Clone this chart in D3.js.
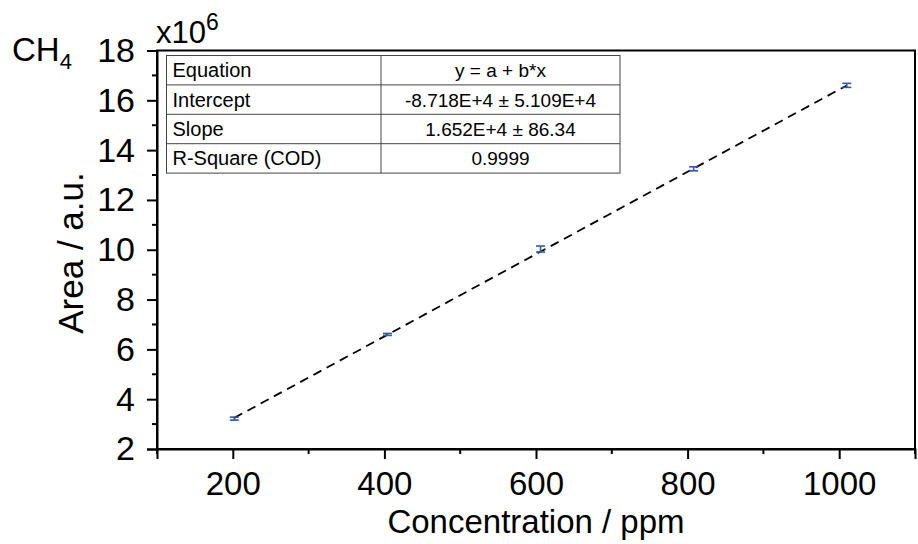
<!DOCTYPE html>
<html>
<head>
<meta charset="utf-8">
<script src="https://cdn.jsdelivr.net/npm/d3@7"></script>
<style>
  html, body { margin: 0; padding: 0; background: #fff; }
  svg { display: block; font-family: "Liberation Sans", Arial, sans-serif; }
</style>
</head>
<body>
<svg id="chart" width="918" height="544"></svg>
<script>
// ---- data ----
const concentrations = [202, 404, 606, 808, 1010];       // ppm
const areas = [3.22, 6.60, 10.03, 13.25, 16.60];        // x10^6 a.u.
const errors = [0.06, 0.04, 0.12, 0.08, 0.08];          // x10^6 a.u.
const fitIntercept = -8.718e4;
const fitSlope = 1.652e4;
const xTicks = [200, 400, 600, 800, 1000];
const yTicks = [2, 4, 6, 8, 10, 12, 14, 16, 18];
const tableRows = ["Equation", "Intercept", "Slope", "R-Square (COD)"];
const tableValues = ["y = a + b*x", "-8.718E+4 \u00b1 5.109E+4", "1.652E+4 \u00b1 86.34", "0.9999"];

// ---- layout ----
const svg = d3.select("#chart");
const FONT = "Liberation Sans, Arial, sans-serif";
const L = 157, R = 915, T = 50.5, B = 449;
const x = d3.scaleLinear().domain([100, 1100]).range([L, R]);
const y = d3.scaleLinear().domain([2, 18]).range([B, T]);

// frame
svg.append("rect").attr("x", L).attr("y", T).attr("width", R - L).attr("height", B - T)
  .attr("fill", "none").attr("stroke", "#000").attr("stroke-width", 2);

// minor ticks
const xMinor = d3.range(100, 1101, 200);
const yMinor = d3.range(3, 18, 2);

const xAxis = d3.axisBottom(x).tickValues(xTicks).tickSize(10).tickPadding(13).tickFormat(d3.format("d"));
const gx = svg.append("g").attr("transform", `translate(0,${B})`).call(xAxis);
gx.select(".domain").attr("stroke-width", 2);
gx.selectAll(".tick line").attr("stroke-width", 2);
gx.selectAll(".tick text").attr("font-size", 33).attr("font-family", FONT).attr("fill", "#000");
gx.selectAll(".minor").data(xMinor).enter().append("line").attr("class", "minor")
  .attr("x1", d => x(d)).attr("x2", d => x(d)).attr("y1", 0).attr("y2", 5)
  .attr("stroke", "#000").attr("stroke-width", 2);

const yAxis = d3.axisLeft(y).tickValues(yTicks).tickSize(10).tickPadding(12).tickFormat(d3.format("d"));
const gy = svg.append("g").attr("transform", `translate(${L},0)`).call(yAxis);
gy.select(".domain").attr("stroke-width", 2);
gy.selectAll(".tick line").attr("stroke-width", 2);
gy.selectAll(".tick text").attr("font-size", 34).attr("font-family", FONT).attr("fill", "#000");
gy.selectAll(".minor").data(yMinor).enter().append("line").attr("class", "minor")
  .attr("x1", 0).attr("x2", -5).attr("y1", d => y(d)).attr("y2", d => y(d))
  .attr("stroke", "#000").attr("stroke-width", 2);

// axis titles
svg.append("text").attr("x", 536).attr("y", 533).attr("text-anchor", "middle")
  .attr("font-size", 33).text("Concentration / ppm");
svg.append("text").attr("transform", `translate(83,253) rotate(-90)`).attr("text-anchor", "middle")
  .attr("font-size", 35).text("Area / a.u.");

// CH4 label
const ch = svg.append("text").attr("x", 12).attr("y", 61).attr("font-size", 33);
ch.append("tspan").text("CH");
ch.append("tspan").attr("font-size", 22).attr("dy", 8).text("4");

// multiplier
const mult = svg.append("text").attr("x", 156).attr("y", 43).attr("font-size", 31);
mult.append("tspan").text("x10");
mult.append("tspan").attr("font-size", 23).attr("dy", -13).text("6");

// fit line
const fitX = d3.extent(concentrations);
svg.append("line")
  .attr("x1", x(fitX[0])).attr("y1", y((fitIntercept + fitSlope * fitX[0]) / 1e6))
  .attr("x2", x(fitX[1])).attr("y2", y((fitIntercept + fitSlope * fitX[1]) / 1e6))
  .attr("stroke", "#000").attr("stroke-width", 1.8).attr("stroke-dasharray", "9,6");

// error bars
const blue = "#2f5ba8";
const eb = svg.append("g").attr("stroke", blue).attr("stroke-width", 1.6);
concentrations.forEach((c, i) => {
  const cx = x(c), y0 = y(areas[i] - errors[i]), y1 = y(areas[i] + errors[i]);
  eb.append("line").attr("x1", cx).attr("x2", cx).attr("y1", y0).attr("y2", y1);
  eb.append("line").attr("x1", cx - 4.5).attr("x2", cx + 4.5).attr("y1", y0).attr("y2", y0);
  eb.append("line").attr("x1", cx - 4.5).attr("x2", cx + 4.5).attr("y1", y1).attr("y2", y1);
});

// table
const tL = 166.5, tC = 381, tR = 620, tT = 55.5, rowH = 29.4;
const tg = svg.append("g");
tg.append("rect").attr("x", tL).attr("y", tT).attr("width", tR - tL).attr("height", rowH * tableRows.length)
  .attr("fill", "#fff").attr("stroke", "#444").attr("stroke-width", 1);
tableRows.forEach((r, i) => {
  if (i > 0) tg.append("line").attr("x1", tL).attr("x2", tR).attr("y1", tT + i * rowH).attr("y2", tT + i * rowH)
    .attr("stroke", "#444").attr("stroke-width", 1);
  tg.append("text").attr("x", tL + 6).attr("y", tT + i * rowH + rowH / 2 + 7).attr("font-size", 20).text(r);
  tg.append("text").attr("x", (tC + tR) / 2).attr("y", tT + i * rowH + rowH / 2 + 7).attr("font-size", 19)
    .attr("text-anchor", "middle").text(tableValues[i]);
});
tg.append("line").attr("x1", tC).attr("x2", tC).attr("y1", tT).attr("y2", tT + rowH * tableRows.length)
  .attr("stroke", "#444").attr("stroke-width", 1);
</script>
</body>
</html>
